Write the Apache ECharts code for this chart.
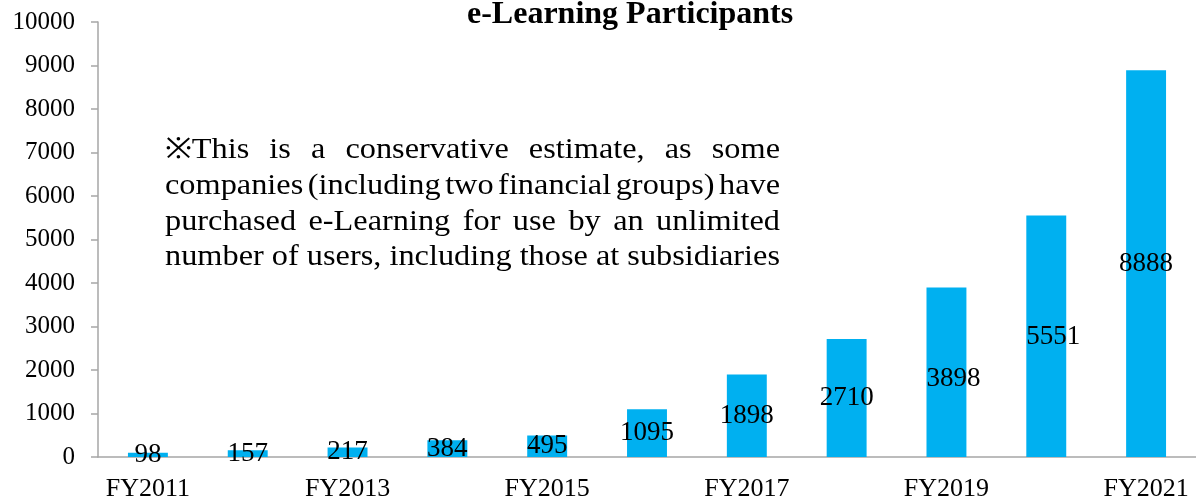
<!DOCTYPE html>
<html>
<head>
<meta charset="utf-8">
<script src="https://cdn.jsdelivr.net/npm/echarts@6/dist/echarts.min.js"></script>
<style>
  html, body { margin: 0; padding: 0; background: #fff; }
  #chart { width: 1196px; height: 500px; }
</style>
</head>
<body>
<div id="chart"></div>
<script>
const years = ['FY2011', 'FY2012', 'FY2013', 'FY2014', 'FY2015', 'FY2016',
  'FY2017', 'FY2018', 'FY2019', 'FY2020', 'FY2021'];
const participants = [98, 157, 217, 384, 495, 1095, 1898, 2710, 3898, 5551, 8888];
const noteLines = [
  '※This is a conservative estimate, as some',
  'companies (including two financial groups) have',
  'purchased e-Learning for use by an unlimited',
  'number of users, including those at subsidiaries'
];

const serif = "'Liberation Serif', 'Times New Roman', serif";
const noteFont = 29;
const noteLeft = 165, noteRight = 780, noteTop = 136, noteLineH = 35.7;

// a couple of labels in the source sit a little off-centre
const labelShift = { 8: [7, 7], 9: [7, 1] };

// justified note text: place each word, spread the spare space between words.
// the source text is a bit wider than the font, so stretch it horizontally
const ctx = document.createElement('canvas').getContext('2d');
ctx.font = noteFont + 'px ' + serif;
const lastW = ctx.measureText(noteLines[noteLines.length - 1]).width;
const sx = (noteRight - noteLeft) / lastW;
const noteWords = [];
noteLines.forEach((line, i) => {
  const words = line.split(' ');
  const widths = words.map(w => ctx.measureText(w).width * sx);
  const total = widths.reduce((a, b) => a + b, 0);
  let gap = ctx.measureText(' ').width * sx;
  if (i < noteLines.length - 1) gap = (noteRight - noteLeft - total) / (words.length - 1);
  let x = noteLeft;
  words.forEach((w, j) => {
    noteWords.push({
      type: 'text',
      x: x,
      y: noteTop + i * noteLineH,
      scaleX: sx,
      style: { text: w, fill: '#000', font: noteFont + 'px ' + serif }
    });
    x += widths[j] + gap;
  });
});

const barData = participants.map((v, i) =>
  labelShift[i] ? { value: v, label: { offset: labelShift[i] } } : v);

const chart = echarts.init(document.getElementById('chart'));
chart.setOption({
  animation: false,
  title: {
    text: 'e-Learning Participants',
    left: 467,
    top: -1,
    padding: 0,
    textStyle: { fontFamily: serif, fontSize: 32, fontWeight: 'bold', color: '#000' }
  },
  grid: { left: 98, right: 0, top: 22, bottom: 43, outerBoundsMode: 'none' },
  xAxis: {
    type: 'category',
    data: years,
    axisLine: { lineStyle: { color: '#a6a6a6', width: 1.5 } },
    axisTick: { interval: 0, length: 8, lineStyle: { color: '#a6a6a6', width: 1.5 } },
    axisLabel: { interval: 1, margin: 19, color: '#000', fontFamily: serif, fontSize: 26 }
  },
  yAxis: {
    type: 'value',
    min: 0,
    max: 10000,
    interval: 1000,
    splitLine: { show: false },
    axisLine: { show: true, lineStyle: { color: '#a6a6a6', width: 1.5 } },
    axisTick: { show: true, length: 7, lineStyle: { color: '#a6a6a6', width: 1.5 } },
    axisLabel: {
      margin: 23, color: '#000', fontFamily: serif, fontSize: 25,
      formatter: v => String(v)
    }
  },
  series: [{
    type: 'bar',
    data: barData,
    barWidth: '40%',
    itemStyle: { color: '#00b0f0' },
    label: {
      show: true,
      position: 'inside',
      color: '#000',
      fontFamily: serif,
      fontSize: 27
    }
  }],
  graphic: noteWords
});
</script>
</body>
</html>
